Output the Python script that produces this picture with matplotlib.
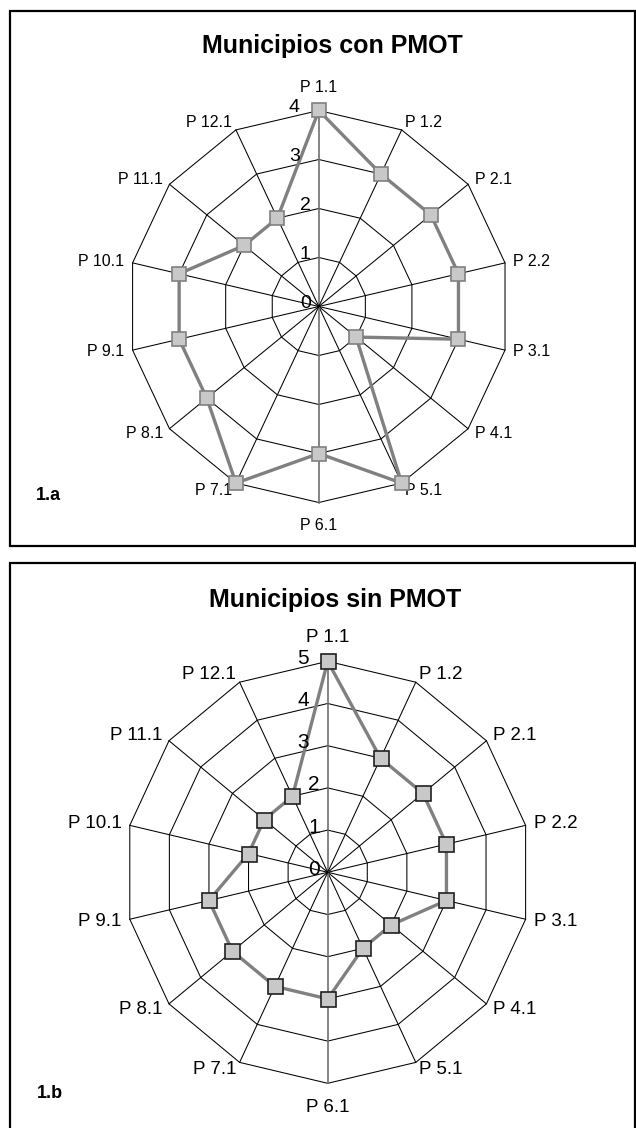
import numpy as np
import matplotlib
matplotlib.use("Agg")
import matplotlib.pyplot as plt
from matplotlib.patches import Rectangle

plt.rcParams['font.family'] = ['Liberation Sans', 'DejaVu Sans']

categories = ['P 1.1', 'P 1.2', 'P 2.1', 'P 2.2', 'P 3.1', 'P 4.1', 'P 5.1',
              'P 6.1', 'P 7.1', 'P 8.1', 'P 9.1', 'P 10.1', 'P 11.1', 'P 12.1']
con_pmot = [4, 3, 3, 3, 3, 1, 4, 3, 4, 3, 3, 3, 2, 2]
sin_pmot = [5, 3, 3, 3, 3, 2, 2, 3, 3, 3, 3, 2, 2, 2]

W, H = 636, 1128
PX = 72 / 100.0  # points per pixel


def radar(ax, values, rmax, label_size, tick_size, msize, medge):
    n = len(categories)
    theta = np.linspace(0, 2 * np.pi, n, endpoint=False)
    closed = np.append(theta, theta[0])

    ax.set_theta_zero_location('N')
    ax.set_theta_direction(-1)
    ax.set_ylim(0, rmax)
    ax.set_aspect('auto')
    ax.grid(False)
    ax.set_xticks([])
    ax.set_yticks([])
    ax.spines['polar'].set_visible(False)
    ax.patch.set_alpha(0)

    # polygon rings
    for k in range(1, rmax + 1):
        ax.plot(closed, [k] * len(closed), color='black', lw=0.75, clip_on=False, zorder=1)
    # spokes
    for i, t in enumerate(theta):
        vertical = i == 0 or 2 * i == n
        ax.plot([t, t], [0, rmax], color='#707070' if vertical else 'black',
                lw=1.2 if vertical else 0.75, clip_on=False, zorder=1)

    # data
    vals = list(values) + [values[0]]
    ax.plot(closed, vals, color='#808080', lw=2.4, clip_on=False, zorder=3)
    ax.plot(theta, values, ls='none', marker='s', ms=msize, mfc='#c8c8c8',
            mec=medge, mew=1.2, clip_on=False, zorder=4)

    # category labels
    for t, lab in zip(theta, categories):
        s, c = np.sin(t), np.cos(t)
        if abs(s) < 0.1:
            ha = 'center'
            va = 'bottom' if c > 0 else 'top'
            off = (0, 11 * np.sign(c))
        else:
            ha = 'left' if s > 0 else 'right'
            va = 'center'
            off = (6 * s, 6 * c)
        ax.annotate(lab, xy=(t, rmax), xytext=off, textcoords='offset points',
                    ha=ha, va=va, fontsize=label_size, annotation_clip=False)

    # value labels along the first axis
    for k in range(0, rmax + 1):
        dx = 8 if k <= 2 else 19
        ax.annotate(str(k), xy=(0, k), xytext=(-dx * PX, 3 * PX),
                    textcoords='offset points', ha='right', va='center',
                    fontsize=tick_size, annotation_clip=False, zorder=5)


fig = plt.figure(figsize=(W / 100, H / 100), dpi=100)


def box(x0, y0, x1, y1):
    fig.patches.append(Rectangle((x0 / W, 1 - y1 / H), (x1 - x0) / W, (y1 - y0) / H,
                                 transform=fig.transFigure, fill=False,
                                 edgecolor='black', lw=1.6))


def axes_at(cx, cy, rx, ry):
    return fig.add_axes([(cx - rx) / W, 1 - (cy + ry) / H, 2 * rx / W, 2 * ry / H],
                        projection='polar')


# panel a
box(9.5, 11, 635, 546)
ax1 = axes_at(318.8, 306.5, 191, 196)
radar(ax1, con_pmot, 4, 11.5, 14, 9.4, '#808080')
fig.text(332 / W, 1 - 53 / H, 'Municipios con PMOT', ha='center', va='baseline',
         fontsize=18, fontweight='bold')
fig.text(36 / W, 1 - 500 / H, '1.a', ha='left', va='baseline',
         fontsize=13, fontweight='bold')

# panel b
box(9.5, 563, 635, 1140)
ax2 = axes_at(327.7, 872.3, 203, 211)
radar(ax2, sin_pmot, 5, 13.5, 15, 10.8, '#202020')
fig.text(335 / W, 1 - 606.7 / H, 'Municipios sin PMOT', ha='center', va='baseline',
         fontsize=18, fontweight='bold')
fig.text(36.5 / W, 1 - 1098 / H, '1.b', ha='left', va='baseline',
         fontsize=13, fontweight='bold')

fig.savefig('out.png', dpi=100)
